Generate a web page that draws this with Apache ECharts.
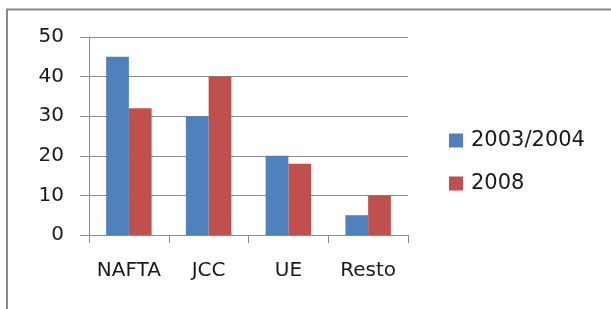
<!DOCTYPE html>
<html>
<head>
<meta charset="utf-8">
<script src="https://cdn.jsdelivr.net/npm/echarts@6/dist/echarts.min.js"></script>
<style>
  html, body { margin: 0; padding: 0; background: #fff; }
  #chart { width: 611px; height: 309px; }
</style>
</head>
<body>
<div id="chart"></div>
<script>
// data
const categories = ['NAFTA', 'JCC', 'UE', 'Resto']
const seriesNames = ['2003/2004', '2008']
const values2003 = [45, 30, 20, 5]
const values2008 = [32, 40, 18, 10]
const yTicks = [0, 10, 20, 30, 40, 50]

const font = 'DejaVu Sans'
const myChart = echarts.init(document.getElementById('chart'))
myChart.setOption({
  animation: false,
  backgroundColor: '#fff',
  textStyle: { fontFamily: font },
  // outer frame of the chart area (only top and left edges are visible)
  graphic: [
    {
      type: 'polyline',
      shape: { points: [[7, 330], [7, 9.5], [660, 9.5]] },
      style: { fill: 'none', stroke: '#8a8a8a', lineWidth: 2 },
      silent: true
    }
  ],
  legend: {
    orient: 'vertical',
    left: 449,
    top: 130,
    padding: 0,
    itemWidth: 14,
    itemHeight: 14,
    itemGap: 22,
    icon: 'rect',
    textStyle: { fontFamily: font, fontSize: 21, color: '#1a1a1a', padding: [0, 0, 0, 3] },
    data: seriesNames
  },
  grid: { left: 89, right: 203, top: 37, bottom: 74 },
  xAxis: {
    type: 'category',
    data: categories,
    axisLine: { lineStyle: { color: '#8c8c8c', width: 1 } },
    axisTick: { show: true, length: 8, lineStyle: { color: '#8c8c8c' } },
    axisLabel: { interval: 0, fontFamily: font, fontSize: 20, color: '#1a1a1a', margin: 26 }
  },
  yAxis: {
    type: 'value',
    min: yTicks[0],
    max: yTicks[yTicks.length - 1],
    interval: 10,
    axisLine: { show: true, lineStyle: { color: '#8c8c8c', width: 1 } },
    axisTick: { show: true, length: 9, lineStyle: { color: '#8c8c8c' } },
    axisLabel: { fontFamily: font, fontSize: 20, color: '#1a1a1a', margin: 25 },
    splitLine: { lineStyle: { color: '#8c8c8c', width: 1 } }
  },
  series: [
    {
      name: seriesNames[0],
      type: 'bar',
      data: values2003,
      barGap: 0,
      barCategoryGap: '43%',
      itemStyle: { color: '#4f81bd' }
    },
    {
      name: seriesNames[1],
      type: 'bar',
      data: values2008,
      barGap: 0,
      barCategoryGap: '43%',
      itemStyle: { color: '#c0504d' }
    }
  ]
})
</script>
</body>
</html>
